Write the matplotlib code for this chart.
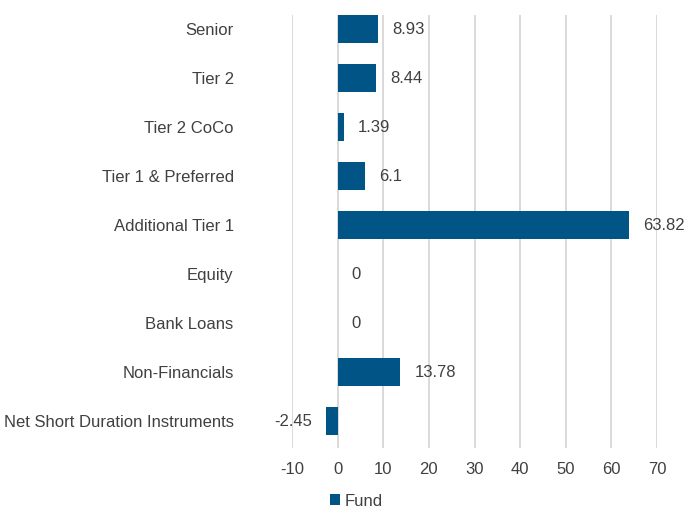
import numpy as np
import matplotlib.pyplot as plt

# data
categories = ['Senior', 'Tier 2', 'Tier 2 CoCo', 'Tier 1 & Preferred',
              'Additional Tier 1', 'Equity', 'Bank Loans', 'Non-Financials',
              'Net Short Duration Instruments']
fund = [8.93, 8.44, 1.39, 6.1, 63.82, 0, 0, 13.78, -2.45]
value_labels = ['8.93', '8.44', '1.39', '6.1', '63.82', '0', '0', '13.78', '-2.45']
xticks = [-10, 0, 10, 20, 30, 40, 50, 60, 70]

plt.rcParams['font.family'] = ['Liberation Sans', 'DejaVu Sans']
plt.rcParams['axes.unicode_minus'] = False
txt = '#404040'
bar_col = '#005587'

fig = plt.figure(figsize=(6.88, 5.15), dpi=100)
ax = fig.add_axes([0.4244, 0.130, 0.5306, 0.841])

y = np.arange(len(categories))
bars = ax.barh(y, fund, height=0.57, color=bar_col, linewidth=0,
               label='Fund', zorder=3)

for yi, v, lab in zip(y, fund, value_labels):
    if v < 0:
        ax.annotate(lab, (v, yi), xytext=(-10, 0), textcoords='offset points',
                    ha='right', va='center', fontsize=12, color=txt)
    else:
        ax.annotate(lab, (v, yi), xytext=(10, 0), textcoords='offset points',
                    ha='left', va='center', fontsize=12, color=txt)

ax.set_xlim(-10, 70)
ax.set_ylim(8.55, -0.29)
ax.set_xticks(xticks)
ax.set_yticks(y)
ax.set_yticklabels(categories)
ax.grid(axis='x', color='#d9d9d9', linewidth=1.4, zorder=0)
ax.set_axisbelow(True)
for s in ax.spines.values():
    s.set_visible(False)
ax.tick_params(axis='both', length=0, labelsize=12, labelcolor=txt)
ax.tick_params(axis='x', pad=10)
ax.tick_params(axis='y', pad=42)

fig.legend(handles=[bars], labels=['Fund'], loc='center left',
           bbox_to_anchor=(0.479, 0.027), frameon=False, fontsize=12,
           handlelength=0.6, handleheight=0.6, handletextpad=0.3,
           borderpad=0, borderaxespad=0, labelcolor=txt)

fig.savefig('out.png', dpi=100)
